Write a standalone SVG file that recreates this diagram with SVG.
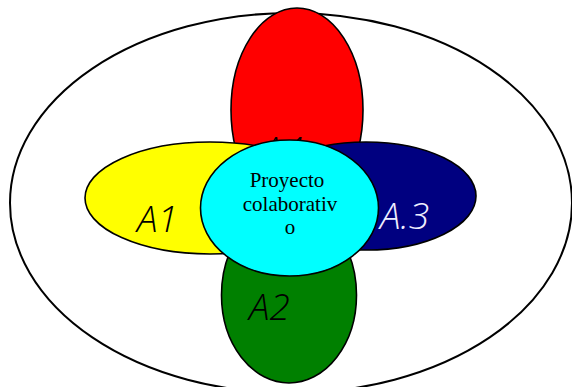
<svg xmlns="http://www.w3.org/2000/svg" width="572" height="387" viewBox="0 0 572 387">
<style>
.e{stroke:#000;stroke-width:1.6}
.lbl{font-family:"Open Sans","Lato","Liberation Sans",sans-serif;font-style:italic;font-weight:300;font-size:37px}
.ct{font-family:"Liberation Serif",serif;font-size:21px;fill:#000;text-anchor:middle}
</style>
<rect width="572" height="387" fill="#fff"/>
<g id="outer"><ellipse cx="291" cy="203" rx="281" ry="190" fill="#fff" stroke="#000" stroke-width="2"/></g>
<g id="a4"><ellipse class="e" cx="297" cy="110" rx="66" ry="102" fill="#ff0000"/><text class="lbl" x="262" y="163" fill="#000">A4</text></g>
<g id="a1"><ellipse class="e" cx="210" cy="198" rx="125" ry="56" fill="#ffff00"/><text class="lbl" x="137" y="232" fill="#000">A1</text></g>
<g id="a3"><ellipse class="e" cx="366" cy="196" rx="110" ry="54" fill="#000080"/><text class="lbl" x="380" y="229" fill="#eeeeff">A.3</text></g>
<g id="a2"><ellipse class="e" cx="289" cy="295" rx="67.5" ry="88" fill="#008000"/><text class="lbl" x="249" y="320" fill="#000">A2</text></g>
<g id="center"><ellipse class="e" cx="289.5" cy="208" rx="89" ry="68" fill="#00ffff"/>
<text class="ct" x="287" y="187">Proyecto</text>
<text class="ct" x="290" y="211">colaborativ</text>
<text class="ct" x="290" y="234">o</text></g>
<g id="connectors"/>
</svg>
